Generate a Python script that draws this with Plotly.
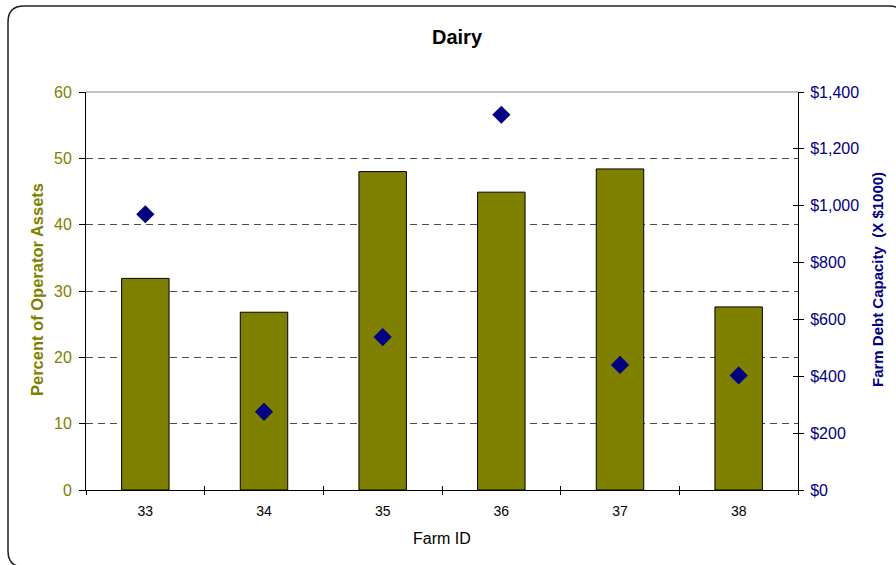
import plotly.graph_objects as go

# Farm records
farm_ids = ["33", "34", "35", "36", "37", "38"]
pct_operator_assets = [31.9, 26.8, 48.0, 44.9, 48.4, 27.6]
debt_capacity_k = [970, 275, 538, 1320, 440, 403]

left_ticks = [0, 10, 20, 30, 40, 50, 60]
right_ticks = [0, 200, 400, 600, 800, 1000, 1200, 1400]
right_tick_text = ["$0", "$200", "$400", "$600", "$800", "$1,000", "$1,200", "$1,400"]

OLIVE = "#808000"
NAVY = "#000080"
FONT = "Liberation Sans, Arial, sans-serif"

W, H = 896, 565
ML, MR, MT, MB = 86, 98, 92, 75
PW, PH = W - ML - MR, H - MT - MB


def px(x):
    return (x - ML) / PW


def py(y):
    return (H - MB - y) / PH


fig = go.Figure()
fig.add_trace(go.Bar(
    x=farm_ids, y=pct_operator_assets, width=0.4,
    marker=dict(color=OLIVE, line=dict(color="#000000", width=1)),
    name="Percent of Operator Assets",
))
fig.add_trace(go.Scatter(
    x=farm_ids, y=debt_capacity_k, yaxis="y2", mode="markers",
    marker=dict(symbol="diamond", size=14, color=NAVY),
    name="Farm Debt Capacity",
))

axis_common = dict(showline=True, linecolor="#000000", linewidth=1, zeroline=False)

fig.update_layout(
    width=W, height=H, margin=dict(l=ML, r=MR, t=MT, b=MB),
    paper_bgcolor="white", plot_bgcolor="white", showlegend=False,
    font=dict(family=FONT, size=13, color="#000000"),
    xaxis=dict(
        type="category", range=[-0.5, 5.5], tickson="boundaries",
        ticks="outside", ticklen=4, tickcolor="#000000",
        tickfont=dict(size=14, color="#000000"), ticklabelstandoff=8,
        showgrid=False, **axis_common,
    ),
    xaxis2=dict(
        type="category", range=[-0.5, 5.5], overlaying="x", anchor="y",
        tickson="boundaries", ticks="inside", ticklen=4, tickcolor="#000000",
        showticklabels=False, showgrid=False, showline=False, zeroline=False,
        matches="x",
    ),
    yaxis=dict(
        range=[0, 60], tickvals=left_ticks, ticks="outside", ticklen=6,
        tickcolor="#000000", tickfont=dict(size=16, color=OLIVE),
        ticklabelstandoff=4,
        showgrid=True, gridcolor="#4a4a4a", gridwidth=1, griddash="7px,5px",
        **axis_common,
    ),
    yaxis2=dict(
        range=[0, 1400], tickvals=right_ticks, ticktext=right_tick_text,
        overlaying="y", side="right", ticks="outside", ticklen=5,
        tickcolor="#000000", tickfont=dict(size=16, color=NAVY),
        ticklabelstandoff=3, showgrid=False, **axis_common,
    ),
    yaxis3=dict(
        range=[0, 1400], tickvals=right_ticks, overlaying="y", side="right",
        anchor="x", ticks="inside", ticklen=5, tickcolor="#000000",
        showticklabels=False, showgrid=False, showline=False, zeroline=False,
    ),
    bargap=0.6,
)

# Empty helper traces so the tick-overlay axes get drawn
fig.add_trace(go.Scatter(x=farm_ids, y=[None] * 6, xaxis="x2", yaxis="y3",
                         hoverinfo="skip", showlegend=False))

# Solid top edge of the plot area
fig.add_shape(type="line", xref="paper", yref="paper", x0=0, x1=1, y0=1, y1=1,
              line=dict(color="#888888", width=1.2))

# Rounded chart border
x0, x1, y0, y1, r = 8, 905, 6, 567, 16
rx, ry = r / PW, r / PH
path = (
    f"M {px(x0)+rx} {py(y0)} L {px(x1)-rx} {py(y0)} "
    f"Q {px(x1)} {py(y0)} {px(x1)} {py(y0)-ry} "
    f"L {px(x1)} {py(y1)+ry} Q {px(x1)} {py(y1)} {px(x1)-rx} {py(y1)} "
    f"L {px(x0)+rx} {py(y1)} Q {px(x0)} {py(y1)} {px(x0)} {py(y1)+ry} "
    f"L {px(x0)} {py(y0)-ry} Q {px(x0)} {py(y0)} {px(x0)+rx} {py(y0)} Z"
)
fig.add_shape(type="path", xref="paper", yref="paper", path=path,
              line=dict(color="#222222", width=1.5), layer="below")


def label(text, x, y, size, color, angle=0):
    fig.add_annotation(text=text, xref="paper", yref="paper",
                       x=px(x), y=py(y), xanchor="center", yanchor="middle",
                       showarrow=False, textangle=angle,
                       font=dict(size=size, color=color, family=FONT))


label("<b>Dairy</b>", 457, 37, 20, "#000000")
label("Farm ID", 442, 538, 16, "#000000")
label("<b>Percent of Operator Assets</b>", 37, 290, 16.5, OLIVE, -90)
label("<b>Farm Debt Capacity  (X $1000)</b>", 877, 279, 15, NAVY, -90)

fig.write_html("out.html")
